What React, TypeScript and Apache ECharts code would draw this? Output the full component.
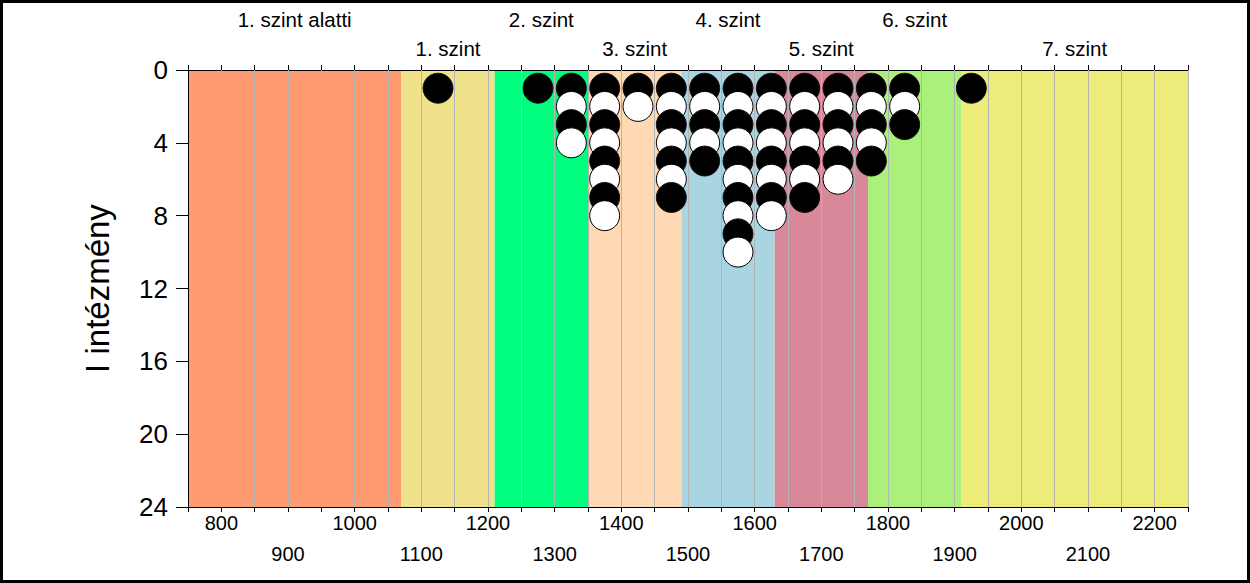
import React, { useEffect, useRef } from "react";
import * as echarts from "echarts";

const binCenters = [1125, 1275, 1325, 1375, 1425, 1475, 1525, 1575, 1625, 1675, 1725, 1775, 1825, 1925];
const binCounts = [1, 1, 4, 8, 2, 7, 5, 10, 8, 7, 6, 5, 3, 1];

const bandNames = ["1. szint alatti", "1. szint", "2. szint", "3. szint", "4. szint", "5. szint", "6. szint", "7. szint"];
const bandStarts = [750, 1070, 1210, 1350, 1490, 1630, 1770, 1910];
const bandEnds = [1070, 1210, 1350, 1490, 1630, 1770, 1910, 2250];
const bandColors = ["#FF9B71", "#F0E28A", "#00FF7F", "#FFD8B4", "#A9D5E3", "#D98899", "#AAF07A", "#ECEC7A"];

const xMin = 750;
const xMax = 2250;
const xStep = 50;
const yTicks = [0, 4, 8, 12, 16, 20, 24];
const yName = "I intézmény";

const FONT = "'Liberation Sans', Arial, sans-serif";

export default function App() {
  const ref = useRef<HTMLDivElement>(null);
  useEffect(() => {
    document.body.style.margin = "0";
    const chart = echarts.init(ref.current!, null, { renderer: "svg" });

    const dots: any[] = [];
    binCenters.forEach((x, i) => {
      for (let k = 1; k <= binCounts[i]; k++) {
        const black = k % 2 === 1;
        dots.push({
          value: [x, k],
          itemStyle: { color: black ? "#000" : "#fff", borderColor: black ? "#111" : "#000", borderWidth: 1, opacity: 1 },
        });
      }
    });

    const areas = bandNames.map((name, i) => [
      {
        name,
        xAxis: bandStarts[i],
        yAxis: yTicks[0],
        itemStyle: { color: bandColors[i], opacity: 1 },
        label: { distance: i % 2 === 0 ? 40 : 11 },
      },
      { xAxis: bandEnds[i], yAxis: yTicks[yTicks.length - 1] },
    ]);

    const gridLines: any[] = [];
    for (let v = xMin + xStep; v <= xMax; v += xStep) gridLines.push({ xAxis: v });

    const option: any = {
      animation: false,
      textStyle: { fontFamily: FONT },
      grid: { left: 188, right: 62, top: 70, bottom: 76 },
      graphic: [
        {
          type: "rect",
          shape: { x: 1.5, y: 1.5, width: 1247, height: 580 },
          style: { fill: "none", stroke: "#000", lineWidth: 3 },
          silent: true,
        },
      ],
      xAxis: [
        {
          type: "value",
          position: "bottom",
          z: 4,
          min: xMin,
          max: xMax,
          interval: xStep,
          axisLine: { show: true, onZero: false, lineStyle: { color: "#000", width: 1 } },
          axisTick: { show: true, length: 5, lineStyle: { color: "#000" } },
          splitLine: { show: false },
          axisLabel: {
            fontSize: 20,
            color: "#000",
            margin: 6,
            fontFamily: FONT,
            showMinLabel: true,
            showMaxLabel: true,
            formatter: (v: number) => (v % 200 === 0 ? String(v) : ""),
          },
        },
        {
          type: "value",
          position: "bottom",
          offset: 31,
          min: xMin,
          max: xMax,
          interval: xStep,
          axisLine: { show: false },
          axisTick: { show: false },
          splitLine: { show: false },
          axisLabel: {
            fontSize: 20,
            color: "#000",
            margin: 6,
            fontFamily: FONT,
            formatter: (v: number) => (v % 200 === 100 ? String(v) : ""),
          },
        },
        {
          type: "value",
          position: "top",
          z: 4,
          min: xMin,
          max: xMax,
          interval: xStep,
          axisLine: { show: true, onZero: false, lineStyle: { color: "#000", width: 1 } },
          axisTick: { show: true, length: 5, lineStyle: { color: "#000" } },
          splitLine: { show: false },
          axisLabel: { show: false },
        },
      ],
      yAxis: {
        type: "value",
        inverse: true,
        z: 4,
        min: yTicks[0],
        max: yTicks[yTicks.length - 1],
        interval: 4,
        name: yName,
        nameLocation: "middle",
        nameGap: 74,
        nameTextStyle: { fontSize: 33, color: "#000", fontFamily: FONT },
        axisLine: { show: true, lineStyle: { color: "#000", width: 1 } },
        axisTick: { show: true, length: 12, lineStyle: { color: "#000" } },
        splitLine: { show: false },
        axisLabel: { fontSize: 26, color: "#000", margin: 20, fontFamily: FONT },
      },
      series: [
        {
          type: "line",
          z: 0,
          data: [],
          xAxisIndex: 0,
          markArea: {
            silent: true,
            label: {
              show: true,
              position: "top",
              color: "#000",
              fontSize: 20.5,
              fontFamily: FONT,
            },
            data: areas,
          },
        },
        {
          type: "line",
          z: 1,
          data: [],
          xAxisIndex: 0,
          markLine: {
            silent: true,
            symbol: ["none", "none"],
            label: { show: false },
            lineStyle: { color: "#B4B4B4", width: 1, type: "solid" },
            data: gridLines,
          },
        },
        {
          type: "scatter",
          xAxisIndex: 0,
          symbol: "circle",
          symbolSize: 30,
          itemStyle: { opacity: 1 },
          data: dots,
          z: 3,
        },
      ],
    };
    chart.setOption(option);
    return () => chart.dispose();
  }, []);
  return <div ref={ref} style={{ width: 1250, height: 583 }} />;
}
